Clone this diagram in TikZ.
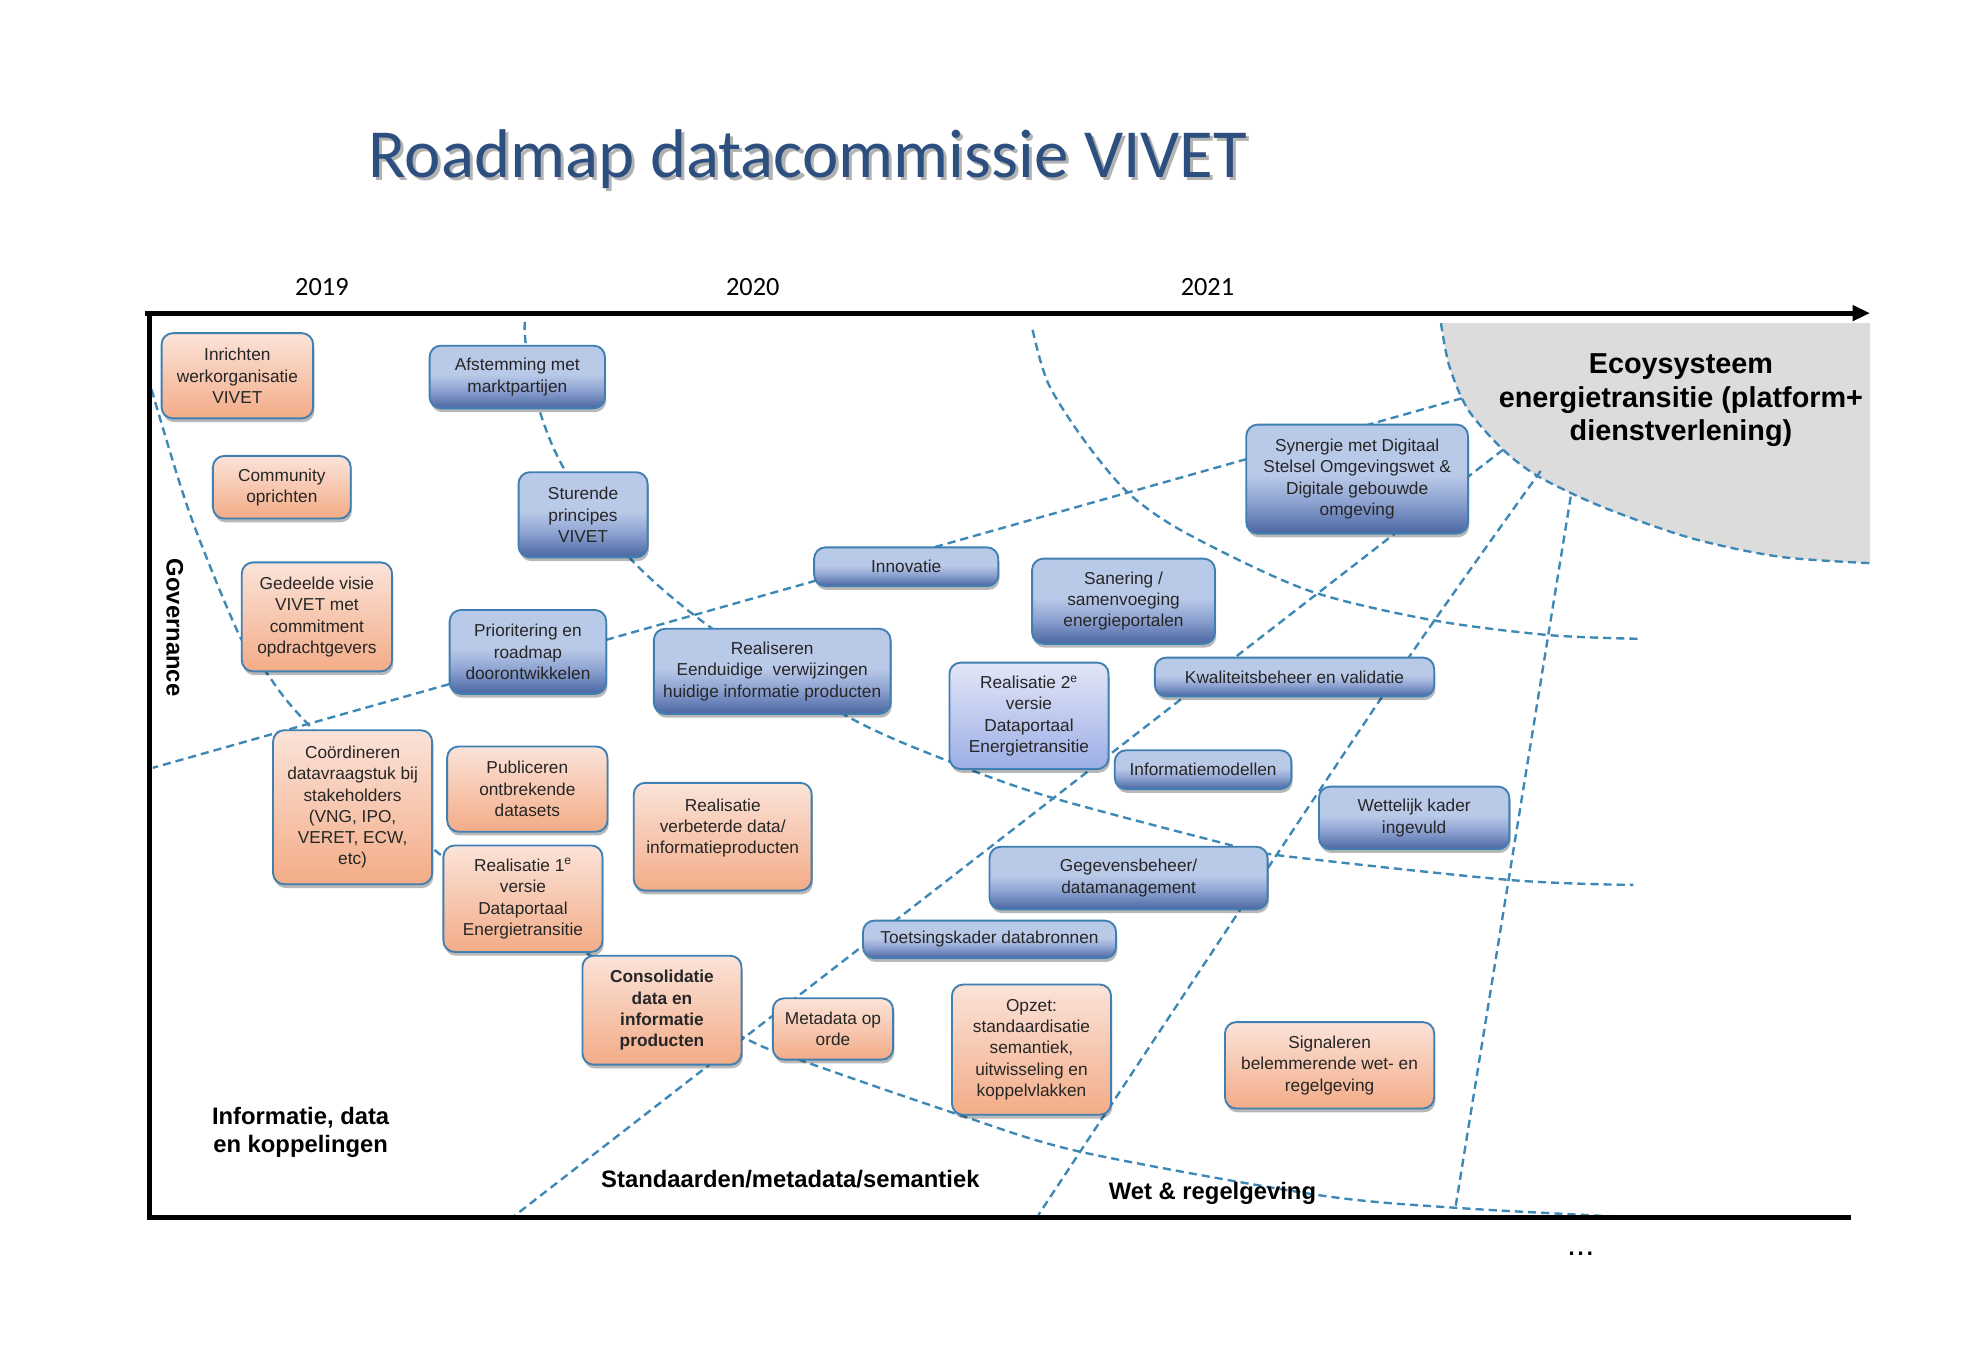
\documentclass[tikz,border=0pt]{standalone}
\usepackage{fontspec}
\setmainfont{Liberation Sans}
\newfontfamily\calibrifont{Carlito}
\usetikzlibrary{arrows.meta,shadows}

\definecolor{bordc}{HTML}{3F7FB1}
\definecolor{dashc}{HTML}{3E88B6}
\definecolor{oT}{HTML}{FBE3D9}
\definecolor{oB}{HTML}{F3AC87}
\definecolor{bT}{HTML}{B9C9E8}
\definecolor{bM}{HTML}{8FA4D2}
\definecolor{bB}{HTML}{4A66A2}
\definecolor{lT}{HTML}{E3E6F7}
\definecolor{lB}{HTML}{9CAEE6}
\definecolor{ecog}{HTML}{DCDCDC}
\definecolor{titc}{HTML}{2C4F80}
\definecolor{txtc}{HTML}{262626}

\pgfdeclareverticalshading{bluegrad}{100bp}{color(0bp)=(bB); color(25bp)=(bB); color(40bp)=(bM); color(52bp)=(bT); color(100bp)=(bT)}

\newcommand{\bxfont}{\fontsize{13.8}{17}\selectfont}
\newcommand{\lbfont}{\fontsize{19}{23}\selectfont\bfseries}

\tikzset{
  box/.style={draw=bordc, line width=1.5pt, rounded corners=9pt, inner sep=0pt,
    align=center, font=\bxfont, text=txtc,
    drop shadow={shadow xshift=1pt, shadow yshift=-3pt, opacity=0.28, fill=black}},
  obox/.style={box, top color=oT, bottom color=oB},
  bbox/.style={box, shade, shading=bluegrad},
  lbox/.style={box, top color=lT, bottom color=lB},
  sz/.style 2 args={minimum width=#1pt, minimum height=#2pt},
  dline/.style={draw=dashc, line width=1.9pt, dash pattern=on 6.5pt off 4pt},
  lab/.style={font=\lbfont, text=black},
  frameline/.style={line width=4pt, black},
}

\begin{document}
\begin{tikzpicture}[x=1pt,y=-1pt]
\useasboundingbox[fill=white] (0,0) rectangle (1568,1078);

% ecosystem region
\fill[ecog] plot[smooth] coordinates {(1150.4,258) (1157,292) (1172,327) (1200,359) (1228.6,380.6) (1279,404.6) (1350,429.6) (1421,444.5) (1493,449.6)} -- (1493,258) -- cycle;
\draw[dline] plot[smooth] coordinates {(1150.4,258) (1157,292) (1172,327) (1200,359) (1228.6,380.6) (1279,404.6) (1350,429.6) (1421,444.5) (1493,449.6)};

% arcs
\draw[dline] plot[smooth] coordinates {(121,311) (151.5,410) (191,507) (212,536) (241.5,573.5) (345,677) (465,759) (593,828) (638,846) (761.5,888.6) (862,919.4) (1051.7,954) (1164,964.4) (1306,972)};
\draw[dline] plot[smooth] coordinates {(419,257) (420,276) (431,328.6) (452,377) (502,444.7) (566,500) (676.7,572) (758,608) (837,636) (976,673) (1019,682.6) (1204.5,702.5) (1304,706.5)};
\draw[dline] plot[smooth] coordinates {(824.4,263.4) (836.8,306) (865.4,351.3) (901,393.8) (947.3,425.8) (1043.4,471) (1143,495) (1236,507) (1309,510)};

% radial lines
\draw[dline] (1167,318) -- (122,613);
\draw[dline] (1200,359) -- (409,972);
\draw[dline] plot[smooth] coordinates {(1230,376) (1126,523) (989,728) (829,970)};
\draw[dline] (1254,396.5) -- (1162,964);

% frame
\draw[frameline, line join=miter] (119,248) -- (119,972) -- (1478,972);
\draw[frameline, -{Triangle[length=14pt,width=12pt]}] (116,250) -- (1493,250);

% title
\node[font=\calibrifont\fontsize{55}{66}\selectfont, text=black, opacity=0.3, anchor=base] (titleshadow) at (647.5,144.5) {Roadmap datacommissie VIVET};
\node[font=\calibrifont\fontsize{55}{66}\selectfont, text=titc, anchor=base] (title) at (645,142) {Roadmap datacommissie VIVET};

% years
\node[font=\calibrifont\fontsize{21}{25}\selectfont, anchor=base] (y2019) at (257,236) {2019};
\node[font=\calibrifont\fontsize{21}{25}\selectfont, anchor=base] (y2020) at (601,236) {2020};
\node[font=\calibrifont\fontsize{21}{25}\selectfont, anchor=base] (y2021) at (964,236) {2021};

% ecosystem text
\node[font=\fontsize{23}{27}\selectfont\bfseries, anchor=base] (eco1) at (1342,298) {Ecoysysteem};
\node[font=\fontsize{23}{27}\selectfont\bfseries, anchor=base] (eco2) at (1342,325) {energietransitie (platform+};
\node[font=\fontsize{23}{27}\selectfont\bfseries, anchor=base] (eco3) at (1342,352) {dienstverlening)};

% orange boxes
\node[obox, sz={121}{68}] (o1) at (189.5,300) {Inrichten\\werkorganisatie\\VIVET};
\node[obox, sz={110}{50}] (o2) at (225,389) {Community\\oprichten};
\node[obox, sz={120}{87}] (o3) at (253,492.5) {Gedeelde visie\\VIVET met\\commitment\\opdrachtgevers};
\node[obox, sz={127}{123}] (o4) at (281.5,644.5) {Coördineren\\datavraagstuk bij\\stakeholders\\(VNG, IPO,\\VERET, ECW,\\etc)};
\node[obox, sz={128}{68}] (o5) at (421,630) {Publiceren\\ontbrekende\\datasets};
\node[obox, sz={127}{85}] (o6) at (417.5,717.5) {Realisatie 1\textsuperscript{e}\\versie\\Dataportaal\\Energietransitie};
\node[obox, sz={142}{86}] (o7) at (577,668) {Realisatie\\verbeterde data/\\informatieproducten\\\mbox{}};
\node[obox, sz={127}{87}, font=\bxfont\bfseries] (o8) at (528.5,806.5) {Consolidatie\\data en\\informatie\\producten};
\node[obox, sz={96}{49}] (o9) at (665,821.5) {Metadata op\\orde};
\node[obox, sz={127}{104}] (o10) at (823.5,838) {Opzet:\\standaardisatie\\semantiek,\\uitwisseling en\\koppelvlakken};
\node[obox, sz={167}{69}] (o11) at (1061.5,850.5) {Signaleren\\belemmerende wet- en\\regelgeving};

% blue boxes
\node[bbox, sz={140}{50}] (b1) at (413,301) {Afstemming met\\marktpartijen};
\node[bbox, sz={103}{68}] (b2) at (465.5,411) {Sturende\\principes\\VIVET};
\node[bbox, sz={125}{67}] (b3) at (421.5,520.5) {Prioritering en\\roadmap\\doorontwikkelen};
\node[bbox, sz={147}{31}] (b4) at (723.5,452.5) {Innovatie};
\node[bbox, sz={189}{68}] (b5) at (616.5,536) {Realiseren\\Eenduidige~ verwijzingen\\huidige informatie producten};
\node[bbox, sz={146}{68}] (b6) at (897,480) {Sanering /\\samenvoeging\\energieportalen};
\node[bbox, sz={177}{87}] (b7) at (1083.5,382.5) {Synergie met Digitaal\\Stelsel Omgevingswet \&\\Digitale gebouwde\\omgeving};
\node[lbox, sz={127}{85}] (b8) at (821.5,571.5) {Realisatie 2\textsuperscript{e}\\versie\\Dataportaal\\Energietransitie};
\node[bbox, sz={223}{31}] (b9) at (1033.5,540.5) {Kwaliteitsbeheer en validatie};
\node[bbox, sz={141}{31}] (b10) at (960.5,614.5) {Informatiemodellen};
\node[bbox, sz={152}{50}] (b11) at (1129,653) {Wettelijk kader\\ingevuld};
\node[bbox, sz={222}{50}] (b12) at (901,701) {Gegevensbeheer/\\datamanagement};
\node[bbox, sz={202}{30}] (b13) at (790,750) {Toetsingskader databronnen};

% domain labels
\node[lab, rotate=-90] (gov) at (139.5,501) {Governance};
\node[lab, anchor=base] (info1) at (240,898) {Informatie, data};
\node[lab, anchor=base] (info2) at (240,920) {en koppelingen};
\node[lab, anchor=base] (std) at (631,948) {Standaarden/metadata/semantiek};
\node[lab, anchor=base] (wet) at (968,958) {Wet \& regelgeving};
\node[font=\fontsize{26}{30}\selectfont, anchor=base] (dots) at (1262,1002) {...};
\end{tikzpicture}
\end{document}
